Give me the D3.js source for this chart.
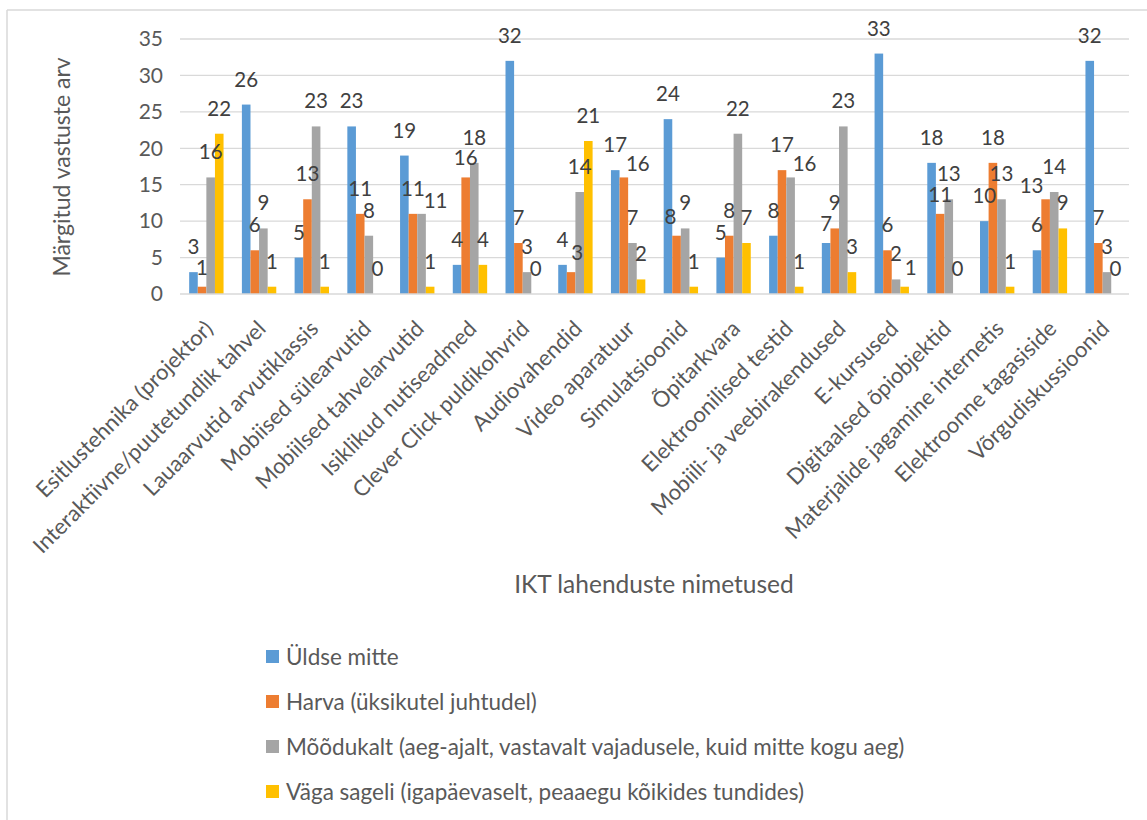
<!DOCTYPE html>
<html>
<head>
<meta charset="utf-8">
<script src="https://cdn.jsdelivr.net/npm/d3@7/dist/d3.min.js"></script>
<style>
  html, body { margin: 0; padding: 0; background: #fff; }
  svg { display: block; font-family: Lato, "Open Sans", sans-serif; }
</style>
</head>
<body>
<svg id="chart" width="1147" height="820"></svg>
<script>
// Categories (IKT solutions)
const categories = [
  "Esitlustehnika (projektor)",
  "Interaktiivne/puutetundlik tahvel",
  "Lauaarvutid arvutiklassis",
  "Mobiised sülearvutid",
  "Mobiilsed tahvelarvutid",
  "Isiklikud nutiseadmed",
  "Clever Click puldikohvrid",
  "Audiovahendid",
  "Video aparatuur",
  "Simulatsioonid",
  "Õpitarkvara",
  "Elektroonilised testid",
  "Mobiili- ja veebirakendused",
  "E-kursused",
  "Digitaalsed õpiobjektid",
  "Materjalide jagamine internetis",
  "Elektroonne tagasiside",
  "Võrgudiskussioonid"
];

const seriesNames = [
  "Üldse mitte",
  "Harva (üksikutel juhtudel)",
  "Mõõdukalt (aeg-ajalt, vastavalt vajadusele, kuid mitte kogu aeg)",
  "Väga sageli (igapäevaselt, peaaegu kõikides tundides)"
];

const uldseMitte  = [3, 26, 5, 23, 19, 4, 32, 4, 17, 24, 5, 8, 7, 33, 18, 10, 6, 32];
const harva       = [1, 6, 13, 11, 11, 16, 7, 3, 16, 8, 8, 17, 9, 6, 11, 18, 13, 7];
const moodukalt   = [16, 9, 23, 8, 11, 18, 3, 14, 7, 9, 22, 16, 23, 2, 13, 13, 14, 3];
const vagaSageli  = [22, 1, 1, 0, 1, 4, 0, 21, 2, 1, 7, 1, 3, 1, 0, 1, 9, 0];

const yTicks = [0, 5, 10, 15, 20, 25, 30, 35];
const colors = ["#5B9BD5", "#ED7D31", "#A5A5A5", "#FFC000"];

const seriesValues = [uldseMitte, harva, moodukalt, vagaSageli];

const svg = d3.select("#chart");
const textColor = "#595959";
const gridColor = "#d9d9d9";

// Chart frame (top and left edges)
svg.append("line").attr("x1", 7).attr("x2", 1147).attr("y1", 10).attr("y2", 10)
  .attr("stroke", gridColor).attr("stroke-width", 1.5);
svg.append("line").attr("x1", 7).attr("x2", 7).attr("y1", 10).attr("y2", 820)
  .attr("stroke", gridColor).attr("stroke-width", 1.5);

const plot = { left: 180, right: 1129, top: 39, bottom: 294 };

const x0 = d3.scaleBand().domain(categories).range([plot.left, plot.right]).paddingInner(0.348).paddingOuter(0.174);
const x1 = d3.scaleBand().domain(d3.range(4)).range([0, x0.bandwidth()]);
const y = d3.scaleLinear().domain([0, 35]).range([plot.bottom, plot.top]);

// Gridlines
svg.append("g").selectAll("line").data(yTicks.filter(d => d > 0)).join("line")
  .attr("x1", plot.left).attr("x2", plot.right)
  .attr("y1", d => y(d)).attr("y2", d => y(d))
  .attr("stroke", gridColor).attr("stroke-width", 1.3);

// Y axis tick labels
const yAxis = d3.axisLeft(y).tickValues(yTicks).tickSize(0).tickPadding(17);
const gy = svg.append("g").attr("transform", `translate(${plot.left},0)`).call(yAxis);
gy.select(".domain").remove();
gy.selectAll("text").attr("fill", textColor).style("font-size", "21px").style("font-family", "Lato");

// Bars
const groups = svg.append("g").selectAll("g").data(categories).join("g")
  .attr("transform", d => `translate(${x0(d)},0)`);

groups.selectAll("rect").data((d, i) => seriesValues.map((s, k) => ({ k, v: s[i] }))).join("rect")
  .attr("x", d => x1(d.k))
  .attr("width", x1.bandwidth())
  .attr("y", d => y(d.v))
  .attr("height", d => y(0) - y(d.v))
  .attr("fill", d => colors[d.k]);

// X axis line
svg.append("line").attr("x1", plot.left).attr("x2", plot.right)
  .attr("y1", plot.bottom).attr("y2", plot.bottom)
  .attr("stroke", gridColor).attr("stroke-width", 1.5);

// Value labels above bars. Within a group the tallest bar's label is placed
// first; lower labels are nudged down/aside when they would collide.
const labelFs = 20.5;
const digitW = labelFs * 0.57;
const labelH = 20;
const nudges = [[0, 0], [0, 6], [6, 6], [-6, 6], [-14, 12], [14, 12], [8, 12], [10, 20], [-10, 20]];
const valueLabels = [];
categories.forEach((c, i) => {
  const placed = [];
  const order = d3.range(4).sort((a, b) => seriesValues[b][i] - seriesValues[a][i] || a - b);
  order.forEach(k => {
    const v = seriesValues[k][i];
    const cx = x0(c) + x1(k) + x1.bandwidth() / 2;
    const by = y(v) - 18;
    const w = String(v).length * digitW;
    let pos = null;
    for (const [dx, dy] of nudges) {
      const b = { x: cx + dx, y: by + dy, w };
      const hit = placed.some(p => Math.abs(p.x - b.x) < (p.w + b.w) / 2 - 1 && Math.abs(p.y - b.y) < labelH);
      if (!hit) { pos = b; break; }
    }
    if (!pos) pos = { x: cx, y: by, w };
    placed.push(pos);
    valueLabels.push({ v, x: pos.x, y: pos.y });
  });
});

svg.append("g").selectAll("text").data(valueLabels).join("text")
  .attr("x", d => d.x)
  .attr("y", d => d.y)
  .attr("text-anchor", "middle")
  .attr("fill", "#404040")
  .style("font-size", labelFs + "px")
  .text(d => d.v);

// Category labels (rotated)
svg.append("g").selectAll("text").data(categories).join("text")
  .attr("transform", d => `translate(${x0(d) + x0.bandwidth() / 2 + 8},${plot.bottom + 36}) rotate(-45)`)
  .attr("text-anchor", "end")
  .attr("fill", textColor)
  .style("font-size", "22px")
  .text(d => d);

// Axis titles
svg.append("text")
  .attr("transform", `translate(70,167) rotate(-90)`)
  .attr("text-anchor", "middle")
  .attr("fill", textColor)
  .style("font-size", "23px")
  .text("Märgitud vastuste arv");

svg.append("text")
  .attr("x", 654).attr("y", 593)
  .attr("text-anchor", "middle")
  .attr("fill", textColor)
  .style("font-size", "24.5px")
  .text("IKT lahenduste nimetused");

// Legend
const legend = svg.append("g").selectAll("g").data(seriesNames).join("g")
  .attr("transform", (d, i) => `translate(266,${656.5 + i * 45})`);
legend.append("rect").attr("x", 0).attr("y", -6.5).attr("width", 13).attr("height", 13)
  .attr("fill", (d, i) => colors[i]);
legend.append("text").attr("x", 20).attr("y", 0).attr("dy", "0.36em")
  .attr("fill", textColor).style("font-size", "22.5px")
  .text(d => d);
</script>
</body>
</html>
